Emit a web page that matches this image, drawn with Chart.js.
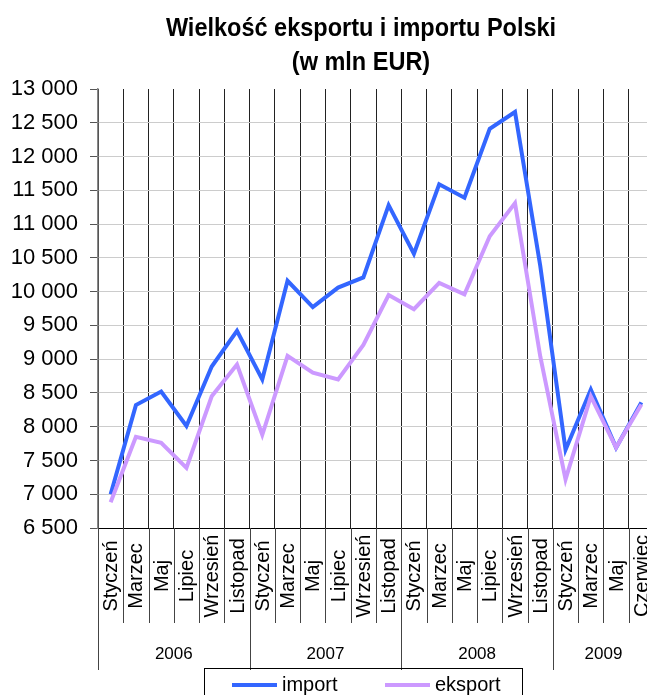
<!DOCTYPE html>
<html lang="pl">
<head>
<meta charset="utf-8">
<title>Wielkość eksportu i importu Polski</title>
<script src="https://cdn.jsdelivr.net/npm/chart.js@4/dist/chart.umd.min.js"></script>
<style>
  html, body { margin: 0; padding: 0; background: #fff; overflow: hidden; }
  canvas { display: block; }
</style>
</head>
<body>
<canvas id="chart" width="722" height="695"></canvas>
<script>
// Data (mln EUR)
const months = [
  'Styczeń', 'Marzec', 'Maj', 'Lipiec', 'Wrzesień', 'Listopad',
  'Styczeń', 'Marzec', 'Maj', 'Lipiec', 'Wrzesień', 'Listopad',
  'Styczeń', 'Marzec', 'Maj', 'Lipiec', 'Wrzesień', 'Listopad',
  'Styczeń', 'Marzec', 'Maj', 'Czerwiec'
];
const years = ['2006', '2007', '2008', '2009'];
const yearSpans = [6, 6, 6, 4];

const importValues = [7000, 8320, 8520, 8010, 8890, 9420, 8700, 10160, 9770, 10060, 10210, 11280,
  10560, 11590, 11390, 12410, 12660, 10380, 7660, 8550, 7690, 8360];
const exportValues = [6880, 7850, 7760, 7390, 8450, 8920, 7880, 9050, 8800, 8700, 9210, 9950,
  9740, 10130, 9960, 10820, 11310, 9040, 7220, 8450, 7690, 8330];

const yMin = 6500, yMax = 13000, yStep = 500;
const titleLines = ['Wielkość eksportu i importu Polski', '(w mln EUR)'];

const FONT = "'Liberation Sans', Arial, sans-serif";

function fmt(v) {
  return String(v).replace(/\B(?=(\d{3})+(?!\d))/g, ' ');
}

// Title, category labels, year labels, separators and the boxed legend
const extras = {
  id: 'extras',
  afterDraw(chart) {
    const { ctx, chartArea } = chart;
    const x = chart.scales.x;
    const bottom = chartArea.bottom;
    ctx.save();

    // title (slightly condensed like the original)
    ctx.fillStyle = '#000';
    ctx.font = 'bold 25px ' + FONT;
    ctx.textAlign = 'center';
    ctx.textBaseline = 'middle';
    titleLines.forEach((t, i) => {
      ctx.save();
      ctx.translate(361, 29 + i * 34);
      ctx.scale(0.94, 1);
      ctx.fillText(t, 0, 0);
      ctx.restore();
    });

    // separators under the axis
    const yearEdges = [0];
    yearSpans.forEach((n, i) => yearEdges.push(yearEdges[i] + n));
    ctx.strokeStyle = '#444';
    ctx.lineWidth = 1;
    for (let i = 0; i <= months.length; i++) {
      const px = Math.round(x.getPixelForValue(i - 0.5)) + 0.5;
      const end = yearEdges.includes(i) ? 670 : 623;
      ctx.beginPath();
      ctx.moveTo(px, bottom);
      ctx.lineTo(px, end);
      ctx.stroke();
    }

    // month labels, vertical
    ctx.font = '20px ' + FONT;
    months.forEach((m, i) => {
      ctx.save();
      ctx.translate(x.getPixelForValue(i), 576);
      ctx.rotate(-Math.PI / 2);
      ctx.fillText(m, 0, 1);
      ctx.restore();
    });

    // year labels
    ctx.font = '17px ' + FONT;
    years.forEach((yr, i) => {
      const mid = (yearEdges[i] + yearEdges[i + 1]) / 2 - 0.5;
      ctx.fillText(yr, x.getPixelForValue(mid), 654);
    });

    // legend
    ctx.strokeStyle = '#000';
    ctx.lineWidth = 1;
    ctx.strokeRect(204.5, 668.5, 318, 40);
    const starts = [232, 385];
    ctx.font = '20px ' + FONT;
    ctx.textAlign = 'left';
    chart.data.datasets
      .slice()
      .sort((a, b) => a.legendIndex - b.legendIndex)
      .forEach((ds, i) => {
        const lx = starts[i];
        ctx.strokeStyle = ds.borderColor;
        ctx.lineWidth = 4;
        ctx.beginPath();
        ctx.moveTo(lx, 685);
        ctx.lineTo(lx + 45, 685);
        ctx.stroke();
        ctx.fillStyle = '#000';
        ctx.fillText(ds.label, lx + 50, 685);
      });

    ctx.restore();
  }
};

new Chart(document.getElementById('chart'), {
  type: 'line',
  data: {
    labels: months,
    datasets: [
      {
        label: 'import',
        data: importValues,
        borderColor: '#3366ff',
        borderWidth: 4,
        pointRadius: 0,
        tension: 0,
        order: 1,
        legendIndex: 0
      },
      {
        label: 'eksport',
        data: exportValues,
        borderColor: '#cc99ff',
        borderWidth: 4,
        pointRadius: 0,
        tension: 0,
        order: 0,
        legendIndex: 1
      }
    ]
  },
  options: {
    responsive: false,
    animation: false,
    devicePixelRatio: 1,
    layout: { padding: { left: 0, right: 68, top: 89, bottom: 0 } },
    plugins: {
      legend: { display: false },
      tooltip: { enabled: false },
      title: { display: false }
    },
    scales: {
      x: {
        type: 'category',
        offset: true,
        grid: { offset: true, color: '#222', lineWidth: 1, drawTicks: false },
        border: { color: '#000', width: 1 },
        ticks: { display: false },
        afterFit: s => { s.height = 167; }
      },
      y: {
        min: yMin,
        max: yMax,
        ticks: {
          stepSize: yStep,
          color: '#000',
          padding: 12,
          font: { family: FONT, size: 22 },
          callback: v => fmt(v)
        },
        grid: {
          color: c => (c.tick && c.tick.value === yMax) ? 'rgba(0,0,0,0)' : '#cccccc',
          lineWidth: 1,
          tickLength: 8,
          tickColor: '#555'
        },
        border: { color: '#888', width: 1.5 },
        afterFit: s => { s.width = 98; }
      }
    }
  },
  plugins: [extras]
});
</script>
</body>
</html>
